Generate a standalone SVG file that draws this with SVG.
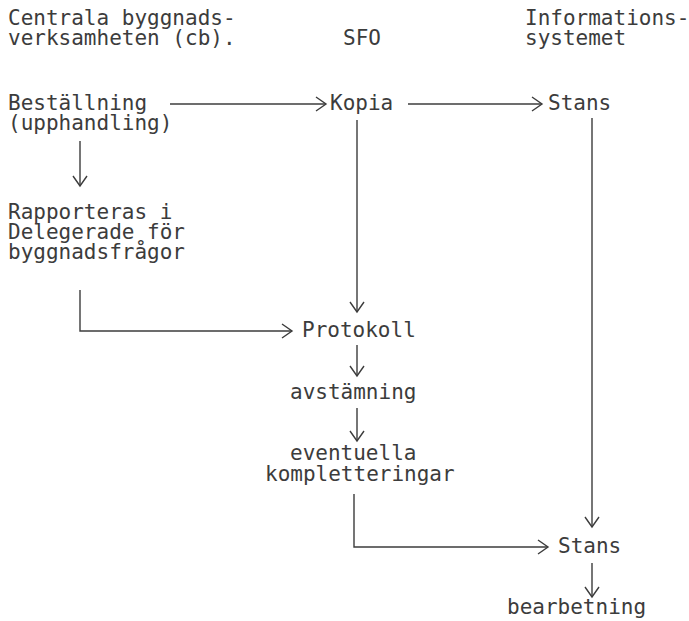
<svg xmlns="http://www.w3.org/2000/svg" width="689" height="621" viewBox="0 0 689 621">
<style>
text{font-family:"DejaVu Sans Mono","Liberation Mono",monospace;font-size:21px;fill:#3c3c3c}
.c{fill:none;stroke:#3c3c3c;stroke-width:1.4}
</style>
<defs>
<marker id="ah" markerUnits="userSpaceOnUse" markerWidth="14" markerHeight="18" refX="11" refY="8" orient="auto">
<path d="M1,1 L11,8 L1,15" fill="none" stroke="#3c3c3c" stroke-width="1.4"/>
</marker>
</defs>
<rect width="689" height="621" fill="#fff"/>
<g id="hdr-cb"><text x="8" y="25">Centrala byggnads-</text><text x="8" y="45">verksamheten (cb).</text></g>
<g id="hdr-sfo"><text x="343" y="45">SFO</text></g>
<g id="hdr-info"><text x="525" y="25">Informations-</text><text x="525" y="45">systemet</text></g>
<g id="n-bestallning"><text x="8" y="110">Beställning</text><text x="8" y="130">(upphandling)</text></g>
<g id="n-kopia"><text x="330" y="110">Kopia</text></g>
<g id="n-stans1"><text x="548" y="110">Stans</text></g>
<g id="n-rapporteras"><text x="8" y="219">Rapporteras i</text><text x="8" y="239">Delegerade för</text><text x="8" y="259">byggnadsfrågor</text></g>
<g id="n-protokoll"><text x="302" y="337">Protokoll</text></g>
<g id="n-avstamning"><text x="290" y="399">avstämning</text></g>
<g id="n-eventuella"><text x="290" y="460">eventuella</text><text x="265" y="481">kompletteringar</text></g>
<g id="n-stans2"><text x="558" y="553">Stans</text></g>
<g id="n-bearbetning"><text x="507" y="614">bearbetning</text></g>
<g id="connectors" class="c">
<path class="c" d="M170,104 H326" marker-end="url(#ah)"/>
<path class="c" d="M408,104 H542" marker-end="url(#ah)"/>
<path class="c" d="M80,141 V186" marker-end="url(#ah)"/>
<path class="c" d="M357,120 V312" marker-end="url(#ah)"/>
<path class="c" d="M592,118 V527" marker-end="url(#ah)"/>
<path class="c" d="M80,290 V331 H292" marker-end="url(#ah)"/>
<path class="c" d="M357,345 V376" marker-end="url(#ah)"/>
<path class="c" d="M357,408 V441" marker-end="url(#ah)"/>
<path class="c" d="M354,494 V547 H548" marker-end="url(#ah)"/>
<path class="c" d="M592,563 V597" marker-end="url(#ah)"/>
</g>
</svg>
